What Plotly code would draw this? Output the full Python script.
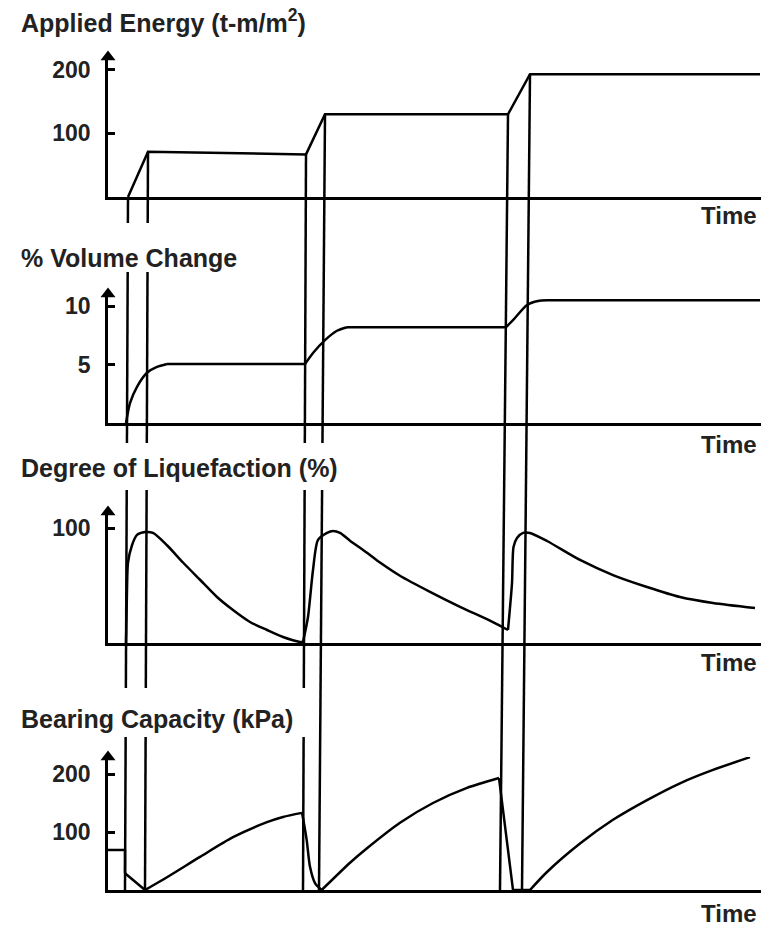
import plotly.graph_objects as go

W, H = 766, 928

# ---------------- data (time in arbitrary units) ----------------
energy_t = [20, 40, 198, 217, 400, 422, 652]
energy_v = [0, 71, 67, 130, 130, 193, 193]

volume_t = [18, 22, 29, 39, 49, 59, 197, 205, 217, 229, 239, 398, 405, 419, 430, 439, 652]
volume_v = [0, 1.7, 3.1, 4.3, 4.8, 5.05, 5.05, 6.0, 7.1, 7.9, 8.2, 8.2, 8.8, 10.1, 10.45, 10.5, 10.5]
volume_corners = [0, 5, 6, 10, 11, 15, 16]

liq_t = [18, 19, 20, 24, 29, 37, 45, 59, 75, 92, 109, 125, 142, 159, 175, 192, 195, 200, 205, 210,
         219, 225, 232, 242, 259, 272, 292, 322, 352, 382, 394, 400, 404, 405.5, 409, 415, 422, 439,
         472, 505, 539, 572, 605, 647]
liq_v = [0, 46, 70, 85, 94, 96.5, 95.7, 85, 70, 55, 40, 28.7, 18.3, 11.3, 5.2, 0.9, 0.9, 22.6, 63.5, 89.6,
         95.7, 97.4, 95.7, 89, 78.5, 70, 58.5, 44.5, 31.5, 19.5, 14, 11.3, 52, 83.5, 91.3, 95.7, 95.7, 88.7,
         72.2, 59.1, 48.7, 40, 34.8, 30.4]
liq_corners = [0, 16, 31, 43]

bearing_t = [0, 17, 17, 37, 59, 92, 125, 159, 175, 194, 195.3, 198.7, 202, 207, 213.7, 242, 259, 292,
             325, 359, 391, 405, 422, 439, 472, 505, 539, 572, 605, 642]
bearing_v = [69, 69, 29, 0, 22, 57, 91, 117, 126, 133, 121, 86, 40, 12, 0, 47, 72, 116,
             150, 176, 193, 0, 0, 31, 80, 121, 155, 184, 207, 229]
bearing_corners = [0, 1, 2, 3, 9, 14, 20, 21, 22, 29]

# connector lines: start at energy vertices, end at these times on the bottom baseline
event_top_idx = [0, 1, 2, 3, 4, 5]
event_bottom_t = [17, 37, 195, 211, 392, 414]

titles = ["Applied Energy (t-m/m<sup>2</sup>)", "% Volume Change",
          "Degree of Liquefaction (%)", "Bearing Capacity (kPa)"]
tick_vals = [[100, 200], [5, 10], [100], [100, 200]]
tick_text = [["100", "200"], ["5", "10"], ["100"], ["100", "200"]]
time_label = "Time"

# ---------------- layout constants (pixels) ----------------
X0PX, X1PX = 108, 761
T_RANGE = [0, 653]
base_px = [197, 423, 643, 890]
top_px = [57, 294, 512, 757]
px_per_unit = [0.636, 11.68, 1.15, 0.58]
title_y_px = [21, 258, 468, 719]
time_y_px = [215, 444, 662, 913]
gap_px = {1: (223, 272), 2: (443, 490), 3: (688, 737)}
line_gaps = [[1, 2, 3], [1, 2, 3], [2, 3], [2], [], []]

FONT = "Liberation Sans, Arial, sans-serif"
LW = 2.5


def py(p):
    return 1 - p / H


domains = [[py(b), py(t)] for b, t in zip(base_px, top_px)]
ymax = [(b - t) / k for b, t, k in zip(base_px, top_px, px_per_unit)]

fig = go.Figure()

series = [
    (energy_t, energy_v, [0, len(energy_t) - 1], "linear"),
    (volume_t, volume_v, volume_corners, "spline"),
    (liq_t, liq_v, liq_corners, "spline"),
    (bearing_t, bearing_v, bearing_corners, "spline"),
]

for i, (ts, vs, corners, shape) in enumerate(series):
    xa = "x" if i == 0 else f"x{i+1}"
    ya = "y" if i == 0 else f"y{i+1}"
    for a, b in zip(corners[:-1], corners[1:]):
        seg_t = ts[a:b + 1]
        seg_v = vs[a:b + 1]
        fig.add_trace(go.Scatter(
            x=seg_t, y=seg_v, mode="lines", xaxis=xa, yaxis=ya,
            line=dict(color="black", width=LW,
                      shape=shape if len(seg_t) > 2 else "linear", smoothing=0.7),
            hoverinfo="skip", showlegend=False))
    # arrowhead at top of y axis
    fig.add_trace(go.Scatter(
        x=[0], y=[ymax[i]], mode="markers", xaxis=xa, yaxis=ya, cliponaxis=False,
        marker=dict(symbol="triangle-up", size=13, color="black"),
        hoverinfo="skip", showlegend=False))

# connector lines crossing panels
shapes = []
for j, (idx, tb) in enumerate(zip(event_top_idx, event_bottom_t)):
    tt, vt = energy_t[idx], energy_v[idx]
    y_top = domains[0][0] + vt / ymax[0] * (domains[0][1] - domains[0][0])
    y_bot = domains[3][0]

    def x_at(y):
        return tt + (tb - tt) * (y_top - y) / (y_top - y_bot)

    cuts = [y_top]
    for g in line_gaps[j]:
        a, b = gap_px[g]
        cuts += [py(a), py(b)]
    cuts.append(y_bot)
    for k in range(0, len(cuts), 2):
        ya_, yb_ = cuts[k], cuts[k + 1]
        shapes.append(dict(type="line", xref="x", yref="paper",
                           x0=x_at(ya_), x1=x_at(yb_), y0=ya_, y1=yb_,
                           line=dict(color="black", width=LW)))

layout = dict(
    width=W, height=H, margin=dict(l=0, r=0, t=0, b=0),
    paper_bgcolor="white", plot_bgcolor="white", showlegend=False,
    shapes=shapes,
)

for i in range(4):
    xkey = "xaxis" if i == 0 else f"xaxis{i+1}"
    ykey = "yaxis" if i == 0 else f"yaxis{i+1}"
    ya = "y" if i == 0 else f"y{i+1}"
    xa = "x" if i == 0 else f"x{i+1}"
    layout[xkey] = dict(domain=[X0PX / W, X1PX / W], range=T_RANGE, anchor=ya,
                        showline=True, linecolor="black", linewidth=LW,
                        showgrid=False, zeroline=False, ticks="", showticklabels=False,
                        fixedrange=True)
    layout[ykey] = dict(domain=domains[i], range=[0, ymax[i]], anchor=xa,
                        showline=True, linecolor="black", linewidth=LW,
                        showgrid=False, zeroline=False,
                        ticks="inside", ticklen=7, tickwidth=LW, tickcolor="black",
                        tickvals=tick_vals[i], ticktext=tick_text[i],
                        ticklabelstandoff=10,
                        tickfont=dict(family=FONT, size=23, color="#222", weight="bold"),
                        fixedrange=True)

annotations = []
for i in range(4):
    annotations.append(dict(text=titles[i], xref="paper", yref="paper",
                            x=19 / W, y=py(title_y_px[i]), xanchor="left", yanchor="middle",
                            showarrow=False,
                            font=dict(family=FONT, size=25, color="#222", weight="bold")))
    annotations.append(dict(text=time_label, xref="paper", yref="paper",
                            x=759 / W, y=py(time_y_px[i]), xanchor="right", yanchor="middle",
                            showarrow=False,
                            font=dict(family=FONT, size=24, color="#222", weight="bold")))
layout["annotations"] = annotations

fig.update_layout(**layout)
fig.write_html("out.html")
